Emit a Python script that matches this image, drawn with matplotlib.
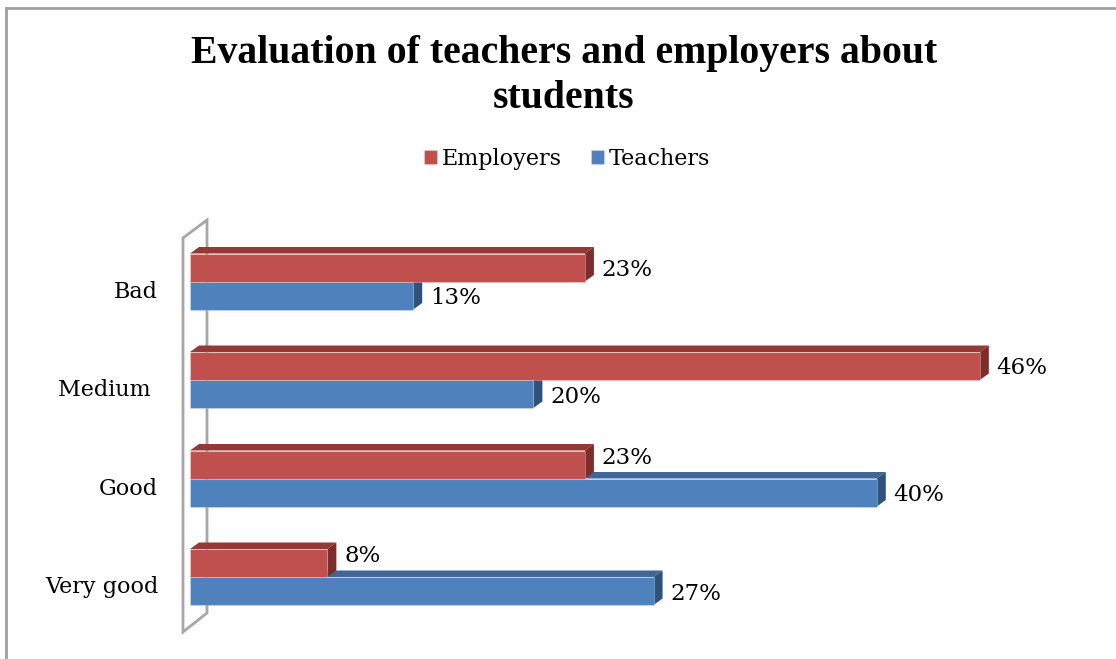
import numpy as np
import matplotlib
matplotlib.use("Agg")
import matplotlib.pyplot as plt
from matplotlib.patches import Polygon
from matplotlib.lines import Line2D

# data
categories = ["Bad", "Medium ", "Good", "Very good"]
employers = [23, 46, 23, 8]
teachers = [13, 20, 40, 27]
series_names = ["Employers", "Teachers"]

# colours: front, top, side
RED = ("#C0504D", "#953836", "#7B2D2B")
BLUE = ("#4F81BD", "#3F6695", "#30527A")

W, H = 1116, 659
PX_X = 17.17   # pixels per percent
PX_Y = 98.5    # pixels per category
BAR_H = 28 / PX_Y
DX = 9 / PX_X  # depth offset to the right
DY = 6.5 / PX_Y  # depth offset upwards

plt.rcParams['font.family'] = ['DejaVu Serif']

fig = plt.figure(figsize=(W / 100, H / 100), dpi=100)
ax = fig.add_axes([170 / W, (H - 650) / H, 930 / W, 450 / H])
ax.set_xlim(-20 / PX_X, 910 / PX_X)
ax.set_ylim((650 - 281.5) / PX_Y, -(281.5 - 200) / PX_Y)
for s in ax.spines.values():
    s.set_visible(False)
ax.set_xticks([])

ypos = np.arange(len(categories))


def draw_3d(values, centers, colors, z):
    front, top, side = colors
    for v, c in zip(values, centers):
        y0 = c - BAR_H / 2
        y1 = c + BAR_H / 2
        ax.add_patch(Polygon([(0, y0), (v, y0), (v + DX, y0 - DY), (DX, y0 - DY)],
                             closed=True, facecolor=top, edgecolor='none', zorder=z))
        ax.add_patch(Polygon([(v, y0), (v, y1), (v + DX, y1 - DY), (v + DX, y0 - DY)],
                             closed=True, facecolor=side, edgecolor='none', zorder=z))
    return ax.barh(centers, values, height=BAR_H, color=front,
                   edgecolor=(1, 1, 1, 0.25), linewidth=0.8, zorder=z + 0.5)


def label_bars(values, centers, lifts):
    for v, c, dy in zip(values, centers, lifts):
        ax.annotate(f"{v}%", (v, c), xytext=(12, dy), textcoords='offset points',
                    ha='left', va='center', fontsize=16.5)


# back wall
wx0, wx1 = -7 / PX_X, 17 / PX_X
wall = [(wx0, (238 - 281.5) / PX_Y), (wx1, (220 - 281.5) / PX_Y),
        (wx1, (613 - 281.5) / PX_Y), (wx0, (632 - 281.5) / PX_Y)]
ax.add_patch(Polygon(wall, closed=True, facecolor='white', edgecolor='#A6A6A6',
                     linewidth=2, zorder=1))

b_teach = draw_3d(teachers, ypos + BAR_H / 2, BLUE, 2)
b_emp = draw_3d(employers, ypos - BAR_H / 2, RED, 4)

# employer labels move up when the teacher bar sticks out below them
emp_lift = [-1.5 if e >= t else 5 for e, t in zip(employers, teachers)]
label_bars(employers, ypos - BAR_H / 2, emp_lift)
label_bars(teachers, ypos + BAR_H / 2, [-2] * len(teachers))

ax.set_yticks(ypos + 0.08, categories, fontsize=16)
ax.tick_params(axis='y', length=0, pad=8.5)

fig.text(564 / W, 1 - 53 / H, "Evaluation of teachers and employers about",
         ha='center', va='center', fontsize=28.6, fontweight='bold',
         family='Liberation Serif')
fig.text(564 / W, 1 - 98 / H, "students", ha='center', va='center',
         fontsize=28.6, fontweight='bold', family='Liberation Serif')

fig.legend([b_emp, b_teach], series_names, loc='center',
           bbox_to_anchor=(567 / W, 1 - 159 / H), ncol=2, frameon=False,
           fontsize=16, handlelength=0.6, handleheight=0.6, handletextpad=0.2,
           columnspacing=1.3)

# chart border (only top and left edges fall inside the picture)
fig.add_artist(Line2D([6 / W, 6 / W], [0, 1 - 8 / H], transform=fig.transFigure,
                      color='#A0A0A0', linewidth=2))
fig.add_artist(Line2D([6 / W, 1], [1 - 8 / H, 1 - 8 / H], transform=fig.transFigure,
                      color='#A0A0A0', linewidth=2))

fig.savefig("out.png", dpi=100)
